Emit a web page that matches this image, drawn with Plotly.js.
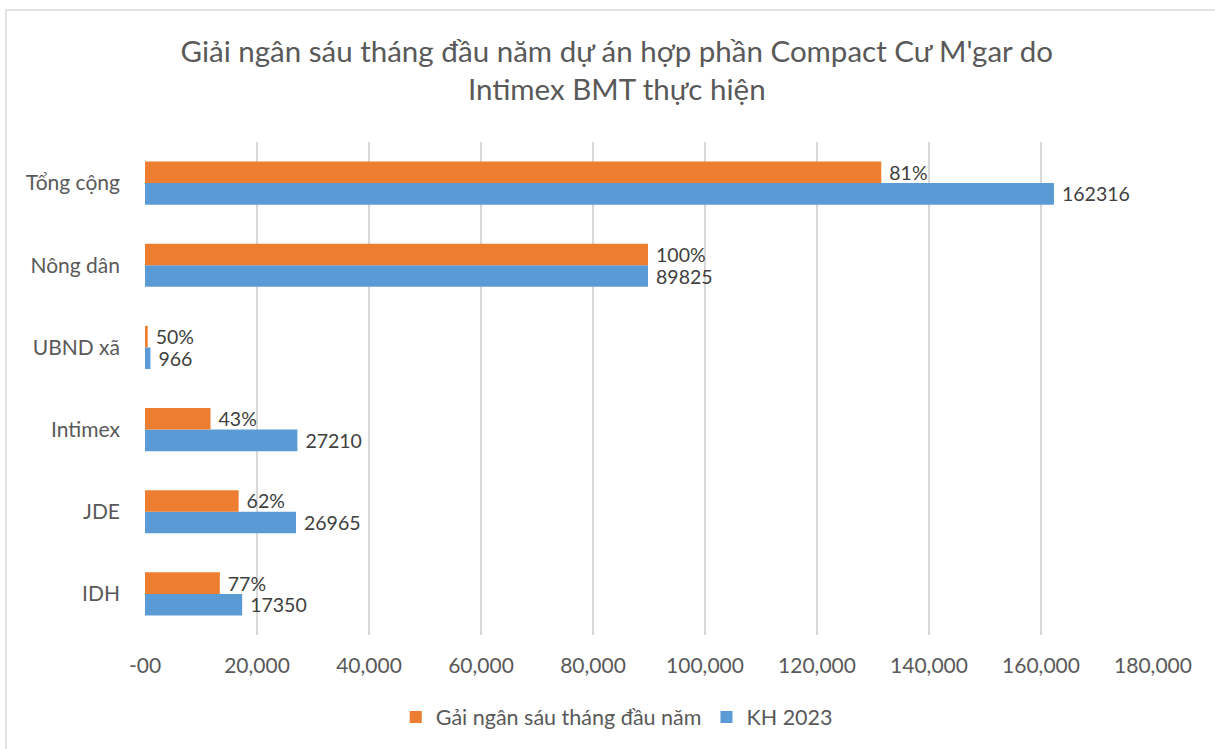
<!DOCTYPE html>
<html>
<head>
<meta charset="utf-8">
<script src="https://cdn.plot.ly/plotly-3.0.1.min.js"></script>
<style>
html,body{margin:0;padding:0;background:#fff;}
#chart{width:1215px;height:749px;}
</style>
</head>
<body>
<div id="chart"></div>
<script>
const categories = ["IDH", "JDE", "Intimex", "UBND xã", "Nông dân", "Tổng cộng"];
const planValues = [17350, 26965, 27210, 966, 89825, 162316];
const disbursedValues = [13360, 16718, 11700, 483, 89825, 131476];
const disbursedLabels = ["77%", "62%", "43%", "50%", "100%", "81%"];
const planLabels = ["17350", "26965", "27210", "966", "89825", "162316"];
const tickValues = [0, 20000, 40000, 60000, 80000, 100000, 120000, 140000, 160000, 180000];
const tickLabels = ["-00", "20,000", "40,000", "60,000", "80,000", "100,000", "120,000", "140,000", "160,000", "180,000"];

const fontFam = "Lato, 'Open Sans', sans-serif";

const traces = [
  {
    type: "bar", orientation: "h", name: "KH 2023",
    y: categories, x: planValues, text: planLabels,
    texttemplate: " %{text}",
    textposition: "outside", cliponaxis: false, constraintext: "none",
    textfont: {family: fontFam, size: 19.5, color: "#404040"},
    marker: {color: "#5B9BD5"}, hoverinfo: "x+y"
  },
  {
    type: "bar", orientation: "h", name: "Gải ngân sáu tháng đầu năm",
    y: categories, x: disbursedValues, text: disbursedLabels,
    texttemplate: " %{text}",
    textposition: "outside", cliponaxis: false, constraintext: "none",
    textfont: {family: fontFam, size: 19.5, color: "#404040"},
    marker: {color: "#ED7D31"}, hoverinfo: "x+y"
  }
];

const pl = 145, pr = 1153, pt = 142, pb = 635;
const W = pr - pl, H = pb - pt;
const layout = {
  width: 1215, height: 749,
  paper_bgcolor: "#fff", plot_bgcolor: "#fff",
  margin: {l: pl, r: 1215 - pr, t: pt, b: 749 - pb, pad: 0},
  font: {family: fontFam, color: "#595959"},
  title: {
    text: "Giải ngân sáu tháng đầu năm dự án hợp phần Compact Cư M'gar do<br>Intimex BMT thực hiện",
    font: {family: fontFam, size: 29.5, color: "#595959"},
    x: 0.468, xanchor: "center", xref: "paper",
    y: 1, yanchor: "bottom", yref: "paper",
    pad: {b: 80}
  },
  barmode: "group",
  bargap: 0.475, bargroupgap: 0,
  xaxis: {
    range: [0, 180000], tickvals: tickValues, ticktext: tickLabels,
    showgrid: true, gridcolor: "#d9d9d9", gridwidth: 1.3,
    zeroline: false, showline: false, ticks: "",
    tickfont: {family: fontFam, size: 21, color: "#595959"},
    ticklabelstandoff: 16, fixedrange: true
  },
  yaxis: {
    type: "category", categoryorder: "array", categoryarray: categories,
    showgrid: false, zeroline: false, showline: false, ticks: "",
    tickfont: {family: fontFam, size: 21, color: "#595959"},
    ticklabelstandoff: 24, fixedrange: true
  },
  showlegend: true,
  legend: {
    orientation: "h", traceorder: "reversed",
    x: 0.468, xanchor: "center", y: (pb - 717) / H, yanchor: "middle",
    font: {family: fontFam, size: 21.5, color: "#595959"},
    itemwidth: 30
  },
  shapes: [
    {type: "rect", xref: "paper", yref: "paper",
     x0: (6 - pl) / W, x1: (1230 - pl) / W,
     y0: (pb - 760) / H, y1: (pb - 10) / H,
     line: {color: "#d9d9d9", width: 1.5}, fillcolor: "rgba(0,0,0,0)", layer: "below"}
  ]
};

Plotly.newPlot("chart", traces, layout, {displayModeBar: false, staticPlot: true});
</script>
</body>
</html>
